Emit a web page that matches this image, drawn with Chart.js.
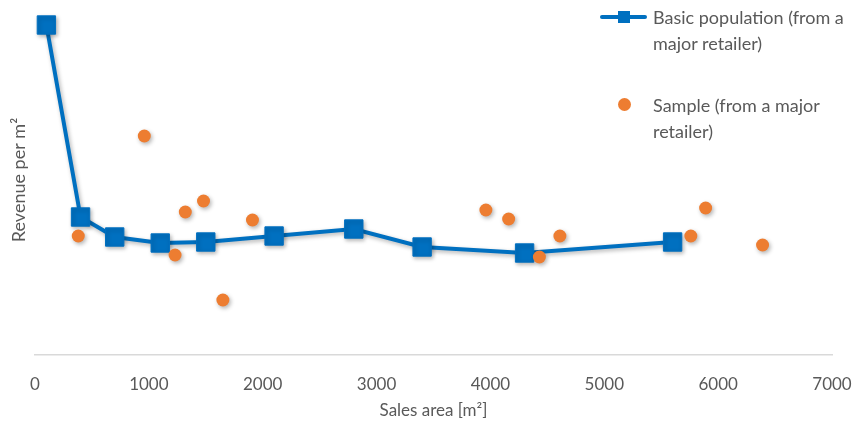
<!DOCTYPE html>
<html lang="en">
<head>
  <meta charset="UTF-8">
  <title>Revenue per m² vs sales area</title>
  <script src="https://cdn.jsdelivr.net/npm/chart.js"></script>
  <style>
    body { margin: 0; background: #fff; font-family: 'Lato', sans-serif; }
    .wrap { position: relative; width: 859px; height: 427px; }
    .legend { position: absolute; left: 600px; top: 4px; color: #595959; font-size: 18px; line-height: 26px; }
    .item { display: flex; align-items: flex-start; margin-bottom: 36px; }
    .sym { position: relative; width: 47px; height: 26px; margin-right: 6px; flex: none; }
    .sym .ln { position: absolute; left: 0; top: 11px; width: 47px; height: 4px; background: #0070C0; border-radius: 2px; }
    .sym .sq { position: absolute; left: 18px; top: 7px; width: 12px; height: 12px; background: #0070C0; }
    .sym .dot { position: absolute; left: 18px; top: 6px; width: 13px; height: 13px; border-radius: 50%; background: #ED7D31; }
    .txt { width: 206px; }
  </style>
</head>
<body>
  <div class="wrap">
    <canvas id="c" width="859" height="427"></canvas>
    <div class="legend" id="legend"></div>
  </div>

  <script>
    const basicLabel = 'Basic population (from a major retailer)';
    const basicX = [100, 400, 700, 1100, 1500, 2100, 2800, 3400, 4300, 5600];
    const basicY = [330, 138, 118, 112, 113, 119, 126, 108, 102, 113];

    const sampleLabel = 'Sample (from a major retailer)';
    const sampleX = [380, 960, 1230, 1320, 1480, 1650, 1910, 3960, 4160, 4430, 4610, 5760, 5890, 6390];
    const sampleY = [119, 219, 100, 143, 154, 55, 135, 145, 136, 98, 119, 119, 147, 110];

    const xTicks = [0, 1000, 2000, 3000, 4000, 5000, 6000, 7000];

    const grey = '#595959';
    const pts = (xs, ys) => xs.map((x, i) => ({ x: x, y: ys[i] }));

    // soft drop shadow like the office chart
    const shadow = {
      id: 'shadow',
      beforeDatasetsDraw(chart) {
        const c = chart.ctx;
        c.save();
        c.shadowColor = 'rgba(0,0,0,0.3)';
        c.shadowBlur = 4;
        c.shadowOffsetX = 1.5;
        c.shadowOffsetY = 2;
      },
      afterDatasetsDraw(chart) { chart.ctx.restore(); }
    };

    const chart = new Chart(document.getElementById('c'), {
      type: 'scatter',
      data: {
        datasets: [{
          label: basicLabel,
          data: pts(basicX, basicY),
          showLine: true,
          borderColor: '#0070C0',
          backgroundColor: '#0070C0',
          borderWidth: 4,
          pointStyle: 'rect',
          pointRadius: 13,
          pointBorderWidth: 1,
          order: 1,
          clip: false
        }, {
          label: sampleLabel,
          data: pts(sampleX, sampleY),
          borderColor: '#ED7D31',
          backgroundColor: '#ED7D31',
          pointRadius: 6.5,
          pointBorderWidth: 0,
          order: 0,
          clip: false
        }]
      },
      options: {
        responsive: false,
        animation: false,
        layout: { autoPadding: false, padding: { top: 5, right: 27 } },
        plugins: { legend: { display: false }, tooltip: { enabled: false } },
        scales: {
          x: {
            type: 'linear',
            min: 0, max: 7000,
            afterFit: (a) => { a.height = 72; a.paddingLeft = 0; a.paddingRight = 0; },
            afterBuildTicks: (a) => { a.ticks = xTicks.map(v => ({ value: v })); },
            ticks: { color: grey, padding: 19, font: { family: 'Lato', size: 17 }, callback: (v) => String(v) },
            grid: { drawOnChartArea: false, drawTicks: false },
            border: { display: true, color: '#D9D9D9', width: 1.5 },
            title: { display: true, text: 'Sales area [m²]', color: grey, font: { family: 'Lato', size: 17 }, padding: { top: 0, bottom: 6 } }
          },
          y: {
            min: 0, max: 350,
            afterFit: (a) => { a.width = 35; },
            ticks: { display: false },
            grid: { display: false },
            border: { display: false },
            title: { display: true, text: 'Revenue per m²', color: grey, font: { family: 'Lato', size: 18 }, padding: { top: 8, bottom: 0 } }
          }
        }
      },
      plugins: [shadow]
    });

    // legend in the top right corner, over the plot like the original
    const lg = document.getElementById('legend');
    chart.data.datasets.forEach((ds, i) => {
      const sym = i === 0 ? '<div class="ln"></div><div class="sq"></div>' : '<div class="dot"></div>';
      lg.insertAdjacentHTML('beforeend',
        '<div class="item"><div class="sym">' + sym + '</div><div class="txt">' + ds.label + '</div></div>');
    });
  </script>
</body>
</html>
